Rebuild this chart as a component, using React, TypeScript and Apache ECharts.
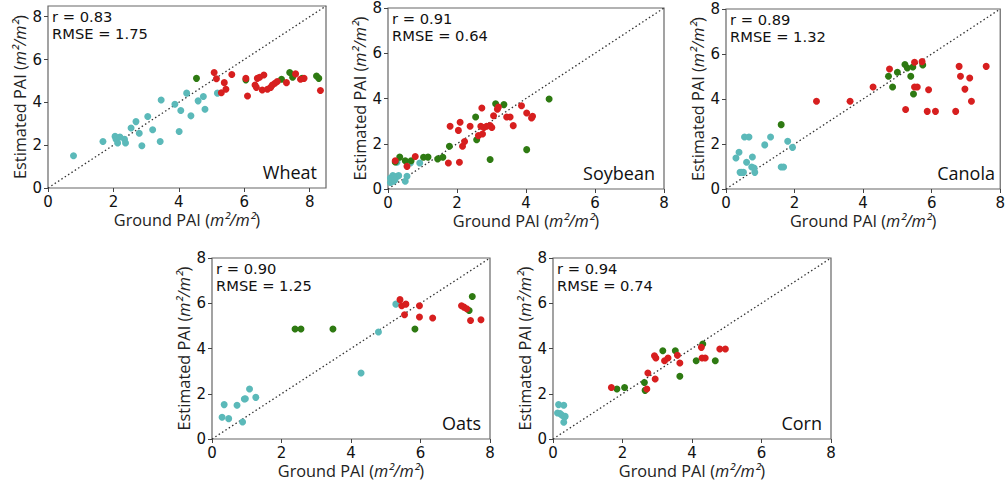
import React, { useEffect, useRef } from "react";
import * as echarts from "echarts";

// ---------- data (Ground PAI, Estimated PAI) ----------
const wheatCyan = [
  [0.78, 1.51], [1.68, 2.17], [2.05, 2.41], [2.08, 2.28], [2.13, 2.1], [2.2, 2.38],
  [2.34, 2.28], [2.37, 2.1], [2.54, 2.8], [2.69, 3.1], [2.79, 2.56], [2.87, 1.97],
  [3.05, 3.34], [3.2, 2.72], [3.43, 2.17], [3.46, 4.11], [3.88, 3.91], [4.01, 2.64],
  [4.06, 3.62], [4.24, 4.43], [4.37, 3.37], [4.59, 4.07], [4.75, 4.27], [4.8, 3.68],
  [5.18, 4.43],
];
const wheatGreen = [
  [4.54, 5.12], [6.05, 5.05], [7.14, 5.08], [7.39, 5.39], [7.48, 5.17], [7.77, 5.12],
  [8.21, 5.23], [8.28, 5.12],
];
const wheatRed = [
  [5.08, 5.39], [5.15, 5.1], [5.3, 4.45], [5.39, 4.92], [5.44, 4.61], [5.62, 5.3],
  [6.05, 5.12], [6.1, 4.3], [6.33, 4.81], [6.37, 4.7], [6.4, 5.12], [6.47, 5.17],
  [6.55, 4.58], [6.6, 5.28], [6.71, 4.61], [6.81, 4.7], [6.86, 4.81], [6.94, 4.89],
  [7.01, 4.97], [7.29, 4.92], [7.57, 5.33], [7.72, 5.08], [7.83, 5.12], [8.33, 4.55],
];

const soyCyan = [
  [0.07, 0.29], [0.12, 0.41], [0.16, 0.34], [0.21, 0.49], [0.26, 0.56], [0.31, 0.59],
  [0.07, 0.49], [0.14, 0.59], [0.1, 0.45], [0.2, 0.4], [0.5, 0.34], [0.55, 0.56],
  [0.26, 1.18], [0.65, 1.15], [0.92, 1.15],
];
const soyGreen = [
  [0.21, 1.19], [0.34, 1.41], [0.5, 1.25], [0.67, 1.25], [1.03, 1.4], [1.16, 1.41],
  [1.44, 1.33], [1.59, 1.4], [1.78, 1.89], [2.54, 3.18], [2.57, 2.18], [2.96, 1.3],
  [3.12, 3.77], [3.36, 3.73], [4.02, 1.74], [4.67, 3.98],
];
const soyRed = [
  [0.21, 1.25], [0.55, 1.0], [0.79, 1.44], [1.75, 1.15], [1.8, 2.77], [2.04, 2.59],
  [2.07, 1.18], [2.09, 2.95], [2.16, 1.89], [2.22, 2.1], [2.38, 2.77], [2.62, 2.36],
  [2.69, 2.77], [2.72, 3.58], [2.74, 2.43], [2.78, 2.72], [2.86, 2.77], [2.96, 2.81],
  [3.01, 2.72], [3.06, 3.24], [3.17, 3.53], [3.2, 3.62], [3.44, 3.18], [3.54, 3.18],
  [3.63, 2.8], [3.87, 3.68], [4.02, 3.36], [4.16, 3.14], [4.19, 3.21],
];

const canolaCyan = [
  [0.29, 1.38], [0.38, 1.63], [0.41, 0.74], [0.46, 0.74], [0.51, 0.74], [0.54, 2.31],
  [0.6, 1.19], [0.67, 2.31], [0.77, 1.42], [0.75, 0.98], [0.82, 0.93], [0.84, 0.74],
  [1.13, 1.96], [1.3, 2.31], [1.61, 0.98], [1.68, 0.98], [1.8, 2.12], [1.94, 1.85],
];
const canolaGreen = [
  [1.61, 2.86], [4.74, 5.01], [4.86, 4.53], [5.0, 5.19], [5.22, 5.53], [5.29, 5.38],
  [5.39, 5.01], [5.45, 5.42], [5.47, 4.22], [5.74, 5.51],
];
const canolaRed = [
  [2.64, 3.9], [3.62, 3.9], [4.29, 4.53], [4.77, 5.33], [5.24, 3.53], [5.5, 5.63],
  [5.72, 5.66], [5.5, 4.53], [5.58, 4.53], [5.87, 3.45], [5.91, 4.41], [6.11, 3.45],
  [6.7, 3.45], [6.8, 5.45], [6.84, 5.01], [6.97, 4.44], [7.11, 4.93], [7.16, 3.9],
  [7.59, 5.45],
];

const oatsCyan = [
  [0.29, 0.96], [0.35, 1.52], [0.48, 0.9], [0.72, 1.49], [0.88, 0.75], [0.93, 1.77],
  [0.96, 1.78], [1.08, 2.21], [1.26, 1.84], [4.29, 2.92], [4.79, 4.73], [5.29, 5.96],
];
const oatsGreen = [
  [2.39, 4.86], [2.56, 4.86], [3.48, 4.86], [5.84, 4.86], [7.4, 5.68], [7.49, 6.3],
];
const oatsRed = [
  [5.41, 6.16], [5.46, 5.89], [5.58, 5.96], [5.54, 5.49], [5.97, 5.89], [5.97, 5.39],
  [6.35, 5.35], [7.18, 5.89], [7.25, 5.83], [7.33, 5.76], [7.44, 5.24], [7.74, 5.27],
];

const cornCyan = [
  [0.16, 1.52], [0.31, 1.49], [0.13, 1.15], [0.21, 1.12], [0.26, 1.05], [0.33, 0.97],
  [0.35, 1.0], [0.31, 0.74],
];
const cornGreen = [
  [1.84, 2.21], [2.06, 2.28], [2.63, 2.5], [2.65, 2.15], [3.16, 3.9], [3.52, 3.9],
  [3.65, 2.77], [4.12, 3.46], [4.31, 4.2], [4.67, 3.46],
];
const cornRed = [
  [1.68, 2.28], [2.7, 2.21], [2.73, 2.92], [2.92, 3.68], [2.96, 3.58], [2.94, 2.65],
  [3.21, 3.46], [3.31, 3.58], [3.58, 3.7], [3.65, 3.36], [4.27, 4.05], [4.29, 3.58],
  [4.38, 3.58], [4.8, 3.98], [4.96, 3.98],
];

const cropNames = ["Wheat", "Soybean", "Canola", "Oats", "Corn"];
const rValues = ["0.83", "0.91", "0.89", "0.90", "0.94"];
const rmseValues = ["1.75", "0.64", "1.32", "1.25", "0.74"];
const axisMax = [8.5, 8, 8, 8, 8];
const tickValues = [0, 2, 4, 6, 8];

const groups = [
  [wheatCyan, wheatGreen, wheatRed],
  [soyCyan, soyGreen, soyRed],
  [canolaCyan, canolaGreen, canolaRed],
  [oatsCyan, oatsGreen, oatsRed],
  [cornCyan, cornGreen, cornRed],
];

// ---------- layout / style ----------
const boxes = [
  { left: 48, top: 6, width: 278, height: 182 },
  { left: 388, top: 8, width: 276, height: 181 },
  { left: 726, top: 9, width: 278, height: 180 },
  { left: 212, top: 258, width: 278, height: 181 },
  { left: 553, top: 258, width: 278, height: 181 },
];
const colors = ["#5bb9b9", "#2e7a12", "#d71f1f"];
const groupNames = ["Group 1", "Group 2", "Group 3"];
const tickFont = "DejaVu Sans";
const labelFont = "Open Sans";

export default function App() {
  const ref = useRef<HTMLDivElement>(null);
  useEffect(() => {
    if (!ref.current) return;
    const chart = echarts.init(ref.current, undefined, { renderer: "svg" });

    const grid = boxes.map((b) => ({
      ...b,
      show: true,
      borderColor: "#666",
      borderWidth: 1.2,
      backgroundColor: "transparent",
      containLabel: false,
    }));

    const nameRich = {
      n: { fontFamily: labelFont, fontSize: 16.3, color: "#222" },
      i: { fontFamily: labelFont, fontSize: 16.3, fontStyle: "italic", color: "#222" },
    };
    const axisCommon = (i: number) => ({
      type: "value",
      gridIndex: i,
      min: 0,
      max: axisMax[i],
      interval: 2,
      splitLine: { show: false },
      axisLine: { show: false },
      axisTick: { show: true, length: 4, lineStyle: { color: "#444" }, customValues: tickValues },
      axisLabel: {
        fontFamily: tickFont,
        fontSize: 15,
        color: "#111",
        margin: 6,
        customValues: tickValues,
      },
      nameLocation: "middle",
      nameTextStyle: { rich: nameRich },
    });

    const xAxis = boxes.map((_, i) => ({
      ...axisCommon(i),
      name: "{n|Ground PAI (}{i|m²/m²}{n|)}",
      nameGap: 24,
    }));
    const yAxis = boxes.map((_, i) => ({
      ...axisCommon(i),
      name: "{n|Estimated PAI (}{i|m²/m²}{n|)}",
      nameGap: 20,
      nameRotate: 90,
    }));

    const series: any[] = [];
    groups.forEach((g, i) => {
      series.push({
        type: "line",
        xAxisIndex: i,
        yAxisIndex: i,
        data: [[0, 0], [axisMax[i], axisMax[i]]],
        symbol: "none",
        silent: true,
        lineStyle: { color: "#333", width: 1.3, type: [1.5, 2.5] },
        z: 1,
      });
      g.forEach((pts, k) => {
        series.push({
          type: "scatter",
          name: groupNames[k],
          xAxisIndex: i,
          yAxisIndex: i,
          data: pts,
          symbolSize: 7,
          itemStyle: { color: colors[k], opacity: 1 },
          z: 2 + k,
        });
      });
    });

    const graphic: any[] = [];
    boxes.forEach((b, i) => {
      graphic.push({
        type: "text",
        x: b.left + 4,
        y: b.top + 3,
        style: {
          text: "r = " + rValues[i],
          font: `14.7px "${tickFont}"`,
          fill: "#111",
          textAlign: "left",
          textVerticalAlign: "top",
        },
      });
      graphic.push({
        type: "text",
        x: b.left + 4,
        y: b.top + 19.5,
        style: {
          text: "RMSE = " + rmseValues[i],
          font: `14.7px "${tickFont}"`,
          fill: "#111",
          textAlign: "left",
          textVerticalAlign: "top",
        },
      });
      graphic.push({
        type: "text",
        x: b.left + b.width - 9,
        y: b.top + b.height - 7,
        style: {
          text: cropNames[i],
          font: `18px "${labelFont}"`,
          fill: "#111",
          textAlign: "right",
          textVerticalAlign: "bottom",
        },
      });
    });

    chart.setOption({
      animation: false,
      backgroundColor: "#fff",
      grid,
      xAxis,
      yAxis,
      series,
      graphic,
    });
    return () => chart.dispose();
  }, []);

  return (
    <div
      ref={ref}
      style={{ position: "fixed", left: 0, top: 0, width: 1008, height: 485 }}
    />
  );
}
